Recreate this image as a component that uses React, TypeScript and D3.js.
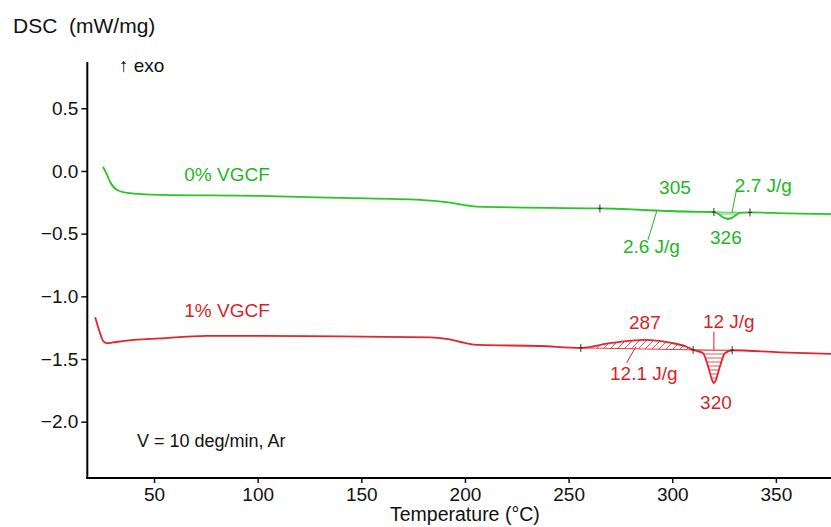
import React, { useEffect, useRef } from 'react';
import * as d3 from 'd3';

// 0% VGCF curve (temperature in °C, DSC in mW/mg)
const temp0 = [25.4, 27, 28.8, 32.2, 37, 52.9, 101, 140, 178.3, 192.8, 205.8, 230, 258.9, 265.1, 280, 293.6, 305, 314, 320.1, 322.5, 324.5, 326.9, 329, 331, 332.7, 337.5, 355, 376.6];
const dsc0 = [0.032, -0.02, -0.088, -0.152, -0.175, -0.191, -0.199, -0.215, -0.231, -0.253, -0.285, -0.292, -0.298, -0.299, -0.306, -0.317, -0.324, -0.326, -0.328, -0.345, -0.37, -0.385, -0.372, -0.35, -0.335, -0.331, -0.338, -0.345];

// 1% VGCF curve
const temp1 = [21.6, 23.5, 25.6, 27.2, 30, 36.8, 52.9, 75.4, 101.1, 140, 183, 192, 200, 207, 236, 255.9, 270, 286.8, 298.9, 306.9, 310.1, 314.9, 317.3, 319.3, 320.1, 321, 323, 325.4, 328.9, 352, 376.6];
const dsc1 = [-1.166, -1.27, -1.36, -1.374, -1.368, -1.353, -1.335, -1.316, -1.316, -1.32, -1.327, -1.342, -1.372, -1.388, -1.396, -1.411, -1.374, -1.348, -1.37, -1.402, -1.427, -1.454, -1.56, -1.67, -1.693, -1.67, -1.56, -1.454, -1.43, -1.447, -1.459];

// integration limits [start, end] and hatch style
const limits0 = [[265.1, 320.1], [320.1, 337.5]];
const hatch0 = ['none', 'horiz'];
const limits1 = [[255.9, 310.1], [310.1, 328.9]];
const hatch1 = ['diag', 'horiz'];

// annotation text, anchored in data coordinates
const labels0 = ['0% VGCF', '305', '2.7 J/g', '326', '2.6 J/g'];
const labelT0 = [64.6, 301.3, 330.2, 325.9, 276.2];
const labelV0 = [-0.08, -0.183, -0.167, -0.582, -0.654];
const anchor0 = ['start', 'middle', 'start', 'middle', 'start'];
const leaders0 = [[292.6, -0.317, 288.3, -0.55], [328.8, -0.333, 331.1, -0.144]];

const labels1 = ['1% VGCF', '287', '12 J/g', '12.1 J/g', '320'];
const labelT1 = [64.6, 286.8, 314.8, 270, 321.1];
const labelV1 = [-1.164, -1.26, -1.252, -1.667, -1.898];
const anchor1 = ['start', 'middle', 'start', 'start', 'middle'];
const leaders1 = [[282.5, -1.401, 278, -1.531], [320.1, -1.281, 320.1, -1.427]];

const xMajor = [50, 100, 150, 200, 250, 300, 350];
const yMajor = [0.5, 0, -0.5, -1, -1.5, -2];

const DscChart = () => {
  const ref = useRef<SVGSVGElement>(null);
  const svgWidth = 831;
  const svgHeight = 527;
  const font = 'Liberation Sans, Arial, sans-serif';

  const draw = () => {
    const svg = d3.select(ref.current);
    svg.selectAll('*').remove();

    const x = d3.scaleLinear().domain([17.8, 376.6]).range([87.3, 831]);
    const y = d3.scaleLinear().domain([-2.449, 0.869]).range([478, 62]);

    const defs = svg.append('defs');
    const mkPattern = (id, color, kind) => {
      const p = defs.append('pattern').attr('id', id).attr('patternUnits', 'userSpaceOnUse');
      if (kind === 'diag') {
        p.attr('width', 7).attr('height', 7);
        p.append('path').attr('d', 'M-1,1 L1,-1 M0,7 L7,0 M6,8 L8,6')
          .attr('stroke', color).attr('stroke-width', 0.8);
      } else {
        p.attr('width', 8).attr('height', 4);
        p.append('line').attr('x1', 0).attr('x2', 8).attr('y1', 2).attr('y2', 2)
          .attr('stroke', color).attr('stroke-width', 0.8);
      }
    };
    mkPattern('diag-red', '#e2252c', 'diag');
    mkPattern('horiz-red', '#e2252c', 'horiz');
    mkPattern('horiz-green', '#27c027', 'horiz');

    // axes
    const xMinor = d3.range(20, 380, 10).filter(d => d % 50 !== 0);
    const yMinor = d3.range(-24, 9).map(d => d / 10).filter(d => Math.round(d * 10) % 5 !== 0);

    const gx = svg.append('g').attr('transform', 'translate(0,478)');
    gx.call(d3.axisBottom(x).tickValues(xMinor).tickSize(3).tickFormat(() => ''));
    gx.call(d3.axisBottom(x).tickValues(xMajor).tickSize(5).tickPadding(4.5).tickSizeOuter(0).tickFormat(d3.format('d')));
    gx.selectAll('.domain').remove();
    gx.append('line').attr('x1', 86.3).attr('x2', 831).attr('stroke', '#000').attr('stroke-width', 2);

    const gy = svg.append('g').attr('transform', 'translate(87.3,0)');
    gy.call(d3.axisLeft(y).tickValues(yMinor).tickSize(4).tickFormat(() => ''));
    gy.call(d3.axisLeft(y).tickValues(yMajor).tickSize(6).tickPadding(3).tickSizeOuter(0).tickFormat(d3.format('.1f')));
    gy.selectAll('.domain').remove();
    gy.append('line').attr('y1', 62).attr('y2', 479).attr('stroke', '#000').attr('stroke-width', 2);

    svg.selectAll('.tick line').attr('stroke', '#111').attr('stroke-width', 1.5);
    svg.selectAll('.tick text').attr('font-family', font).attr('font-size', 19).attr('fill', '#111');

    const drawSeries = (temps, vals, limits, hatches, color, textColor, labels, lt, lv, anchors, leaders, patSuffix) => {
      const pts = temps.map((t, i) => [x(t), y(vals[i])] as [number, number]);

      limits.forEach(([a, b], k) => {
        const i0 = temps.indexOf(a);
        const i1 = temps.indexOf(b);
        const sub = temps.slice(i0, i1 + 1).map((t, j) => ({ t, v: vals[i0 + j] }));
        const base = (t) => vals[i0] + (vals[i1] - vals[i0]) * (t - a) / (b - a);
        if (hatches[k] !== 'none') {
          const area = d3.area<{ t: number; v: number }>()
            .curve(d3.curveMonotoneX)
            .x(d => x(d.t))
            .y0(d => y(base(d.t)))
            .y1(d => y(d.v));
          svg.append('path').attr('d', area(sub))
            .attr('fill', `url(#${hatches[k]}-${patSuffix})`).attr('stroke', 'none');
        }
        svg.append('line')
          .attr('x1', x(a)).attr('y1', y(vals[i0]))
          .attr('x2', x(b)).attr('y2', y(vals[i1]))
          .attr('stroke', color).attr('stroke-width', 0.9);
      });

      svg.append('path')
        .attr('d', d3.line().curve(d3.curveMonotoneX)(pts))
        .attr('fill', 'none').attr('stroke', color).attr('stroke-width', 1.8);

      // limit markers
      const marks = Array.from(new Set(limits.flat()));
      marks.forEach(t => {
        const v = vals[temps.indexOf(t)];
        const g = svg.append('g').attr('stroke', '#333').attr('stroke-width', 1);
        g.append('line').attr('x1', x(t)).attr('x2', x(t)).attr('y1', y(v) - 4).attr('y2', y(v) + 4);
        g.append('line').attr('x1', x(t) - 2).attr('x2', x(t) + 2).attr('y1', y(v)).attr('y2', y(v));
      });

      leaders.forEach(([t0, v0, t1, v1]) => {
        svg.append('line')
          .attr('x1', x(t0)).attr('y1', y(v0)).attr('x2', x(t1)).attr('y2', y(v1))
          .attr('stroke', textColor).attr('stroke-width', 1);
      });

      labels.forEach((txt, i) => {
        svg.append('text')
          .attr('x', x(lt[i])).attr('y', y(lv[i]))
          .attr('text-anchor', anchors[i])
          .attr('font-family', font).attr('font-size', 19)
          .attr('fill', textColor)
          .text(txt);
      });
    };

    drawSeries(temp0, dsc0, limits0, hatch0, '#27c627', '#1fb61f', labels0, labelT0, labelV0, anchor0, leaders0, 'green');
    drawSeries(temp1, dsc1, limits1, hatch1, '#e2252c', '#d91f27', labels1, labelT1, labelV1, anchor1, leaders1, 'red');

    // titles
    svg.append('text').attr('x', 13).attr('y', 33)
      .attr('font-family', font).attr('font-size', 21).attr('fill', '#111')
      .text('DSC\u00a0\u00a0(mW/mg)');
    svg.append('text').attr('x', 119).attr('y', 72)
      .attr('font-family', font).attr('font-size', 19).attr('fill', '#111')
      .text('↑ exo');
    svg.append('text').attr('x', 137).attr('y', 447)
      .attr('font-family', font).attr('font-size', 18).attr('fill', '#111')
      .text('V = 10 deg/min, Ar');
    svg.append('text').attr('x', 390).attr('y', 521)
      .attr('font-family', font).attr('font-size', 19.5).attr('fill', '#111')
      .text('Temperature (°C)');
  };

  useEffect(() => {
    draw();
  }, []);

  return (
    <svg ref={ref} width={svgWidth} height={svgHeight}
      style={{ position: 'absolute', left: 0, top: 0, background: '#fff' }} />
  );
};

export default function App() {
  return <DscChart />;
}
